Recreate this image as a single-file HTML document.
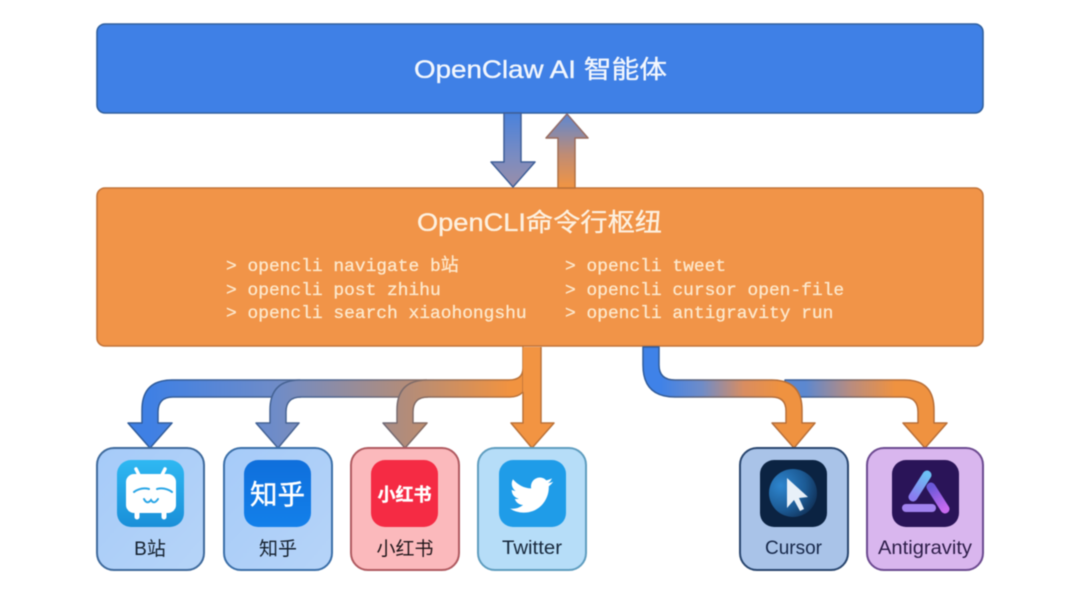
<!DOCTYPE html>
<html><head><meta charset="utf-8"><title>OpenCLI</title>
<style>html,body{margin:0;padding:0;background:#fff;width:1080px;height:602px;overflow:hidden}
svg{display:block;filter:blur(.45px)}
.s{font-family:"Liberation Sans","Noto Sans CJK SC",sans-serif}
.m{font-family:"Liberation Mono","Noto Sans CJK SC",monospace;font-size:17.900px;fill:#fde8cc;stroke:#fde8cc;stroke-width:.3px}
.l{font-family:"Liberation Sans","Noto Sans CJK SC",sans-serif;font-size:19px;text-anchor:middle}
.h{stroke-width:.35px}
</style></head><body>
<svg width="1080" height="602" viewBox="0 0 1080 602" xmlns="http://www.w3.org/2000/svg">
<defs>
<linearGradient id="tf" gradientUnits="userSpaceOnUse" x1="150" y1="0" x2="510" y2="0"><stop offset="0" stop-color="#3f80e4"/><stop offset=".35" stop-color="#6f8cc8"/><stop offset=".7" stop-color="#b08c7c"/><stop offset="1" stop-color="#f19340"/></linearGradient>
<linearGradient id="ts" gradientUnits="userSpaceOnUse" x1="150" y1="0" x2="510" y2="0"><stop offset="0" stop-color="#2f5c9c"/><stop offset=".5" stop-color="#4f6690"/><stop offset="1" stop-color="#bb7238"/></linearGradient>
<linearGradient id="r1f" gradientUnits="userSpaceOnUse" x1="660" y1="0" x2="780" y2="0"><stop offset="0" stop-color="#3f82e8"/><stop offset=".35" stop-color="#6f8cc8"/><stop offset=".7" stop-color="#d98d60"/><stop offset="1" stop-color="#ef9240"/></linearGradient>
<linearGradient id="r1s" gradientUnits="userSpaceOnUse" x1="660" y1="0" x2="780" y2="0"><stop offset="0" stop-color="#2f5c9c"/><stop offset="1" stop-color="#b86f38"/></linearGradient>
<linearGradient id="r2f" gradientUnits="userSpaceOnUse" x1="805" y1="0" x2="895" y2="0"><stop offset="0" stop-color="#5c88d0"/><stop offset=".5" stop-color="#b88c80"/><stop offset="1" stop-color="#ef9240"/></linearGradient>
<linearGradient id="r2s" gradientUnits="userSpaceOnUse" x1="805" y1="0" x2="895" y2="0"><stop offset="0" stop-color="#3b5f98"/><stop offset="1" stop-color="#b86f38"/></linearGradient>
<linearGradient id="dn" x1="0" y1="0" x2="0" y2="1"><stop offset="0" stop-color="#4a82dc"/><stop offset=".6" stop-color="#7c8cc0"/><stop offset="1" stop-color="#9a8ea8"/></linearGradient>
<linearGradient id="up" x1="0" y1="1" x2="0" y2="0"><stop offset="0" stop-color="#f29542"/><stop offset=".45" stop-color="#c08c74"/><stop offset="1" stop-color="#5c88d4"/></linearGradient>
<linearGradient id="upS" x1="0" y1="1" x2="0" y2="0"><stop offset="0" stop-color="#bb7238"/><stop offset="1" stop-color="#8a6a70"/></linearGradient>
<linearGradient id="bi" x1="0" y1="0" x2="0" y2="1"><stop offset="0" stop-color="#2fb8f2"/><stop offset="1" stop-color="#1a8fd8"/></linearGradient>
<linearGradient id="zh" x1="0" y1="0" x2="0" y2="1"><stop offset="0" stop-color="#0f6fdc"/><stop offset="1" stop-color="#1380ea"/></linearGradient>
<linearGradient id="nA" x1="0" y1="0" x2="1" y2="1"><stop offset="0" stop-color="#a6cbf9"/><stop offset="1" stop-color="#b6d4f8"/></linearGradient>
<radialGradient id="cu" cx=".25" cy=".35" r=".85"><stop offset="0" stop-color="#2e86cf"/><stop offset=".6" stop-color="#1c5a94"/><stop offset="1" stop-color="#0f2c50"/></radialGradient>
<linearGradient id="a1" gradientUnits="userSpaceOnUse" x1="927" y1="475" x2="913" y2="497"><stop offset="0" stop-color="#6cc0f4"/><stop offset="1" stop-color="#8a7cf0"/></linearGradient>
<linearGradient id="a2" gradientUnits="userSpaceOnUse" x1="931" y1="487" x2="945" y2="509"><stop offset="0" stop-color="#6a58d8"/><stop offset="1" stop-color="#c86af0"/></linearGradient>
</defs>

<rect x="97" y="24" width="886" height="89" rx="8" fill="#3f80e6" stroke="#30609f" stroke-width="1.6"/>
<text class="s h" x="414" y="78" font-size="25" fill="#f2f6fd" stroke="#f2f6fd" textLength="253" lengthAdjust="spacingAndGlyphs">OpenClaw AI 智能体</text>

<rect x="97" y="188" width="886" height="158" rx="8" fill="#f19448" stroke="#c2743a" stroke-width="1.6"/>
<text class="s h" x="417" y="231" font-size="25" fill="#fdf0df" stroke="#fdf0df" textLength="245" lengthAdjust="spacingAndGlyphs">OpenCLI命令行枢纽</text>
<text class="m" x="226" y="271">&gt; opencli navigate b站</text>
<text class="m" x="226" y="295">&gt; opencli post zhihu</text>
<text class="m" x="226" y="318">&gt; opencli search xiaohongshu</text>
<text class="m" x="565" y="271">&gt; opencli tweet</text>
<text class="m" x="565" y="295">&gt; opencli cursor open-file</text>
<text class="m" x="565" y="318">&gt; opencli antigravity run</text>

<path d="M504 113V162H491L513 187L535 162H521V113Z" fill="url(#dn)" stroke="#3f5f98" stroke-width="1.5" stroke-linejoin="round"/>
<path d="M558 188V138H546L567 114L588 138H575V188Z" fill="url(#up)" stroke="url(#upS)" stroke-width="1.5" stroke-linejoin="round"/>

<g stroke-width="1.5" stroke-linejoin="round">
<path d="M523 347V368Q523 380 509 380H172Q142 380 142 410V423H128L150 448L172 423H158V412Q158 397 173 397H510Q518 397 523 392V347Z" fill="url(#tf)" stroke="url(#ts)"/>
<path d="M300 380Q270 380 270 410V423H256L278 448L299 423H286V412Q286 397 301 397" fill="url(#tf)" stroke="url(#ts)"/>
<path d="M427 380Q397 380 397 410V423H383L405 448L427 423H413V412Q413 397 428 397" fill="url(#tf)" stroke="url(#ts)"/>
<path d="M541 347V423H554L532 448L511 423H523V392L523 368V347Z" fill="#f29442" stroke="none"/>
<path d="M541 347V423H554L532 448L511 423H523V392" fill="none" stroke="#bb7238"/>

<path d="M785 380H905Q934 380 934 410V423H947L925 448L903 423H918V412Q918 397 903 397H785Z" fill="url(#r2f)" stroke="url(#r2s)"/>
<path d="M643 347V365Q643 397 675 397H772Q786 397 786 411V423H772L794 448L815 423H802V410Q802 380 772 380H675Q659 380 659 365V347Z" fill="url(#r1f)" stroke="url(#r1s)"/>
</g>

<rect x="97" y="448" width="107" height="122" rx="17" fill="url(#nA)" stroke="#3f6a9c" stroke-width="2"/>
<rect x="224" y="448" width="108" height="122" rx="17" fill="url(#nA)" stroke="#3b6fa8" stroke-width="2"/>
<rect x="351" y="448" width="108" height="122" rx="17" fill="#fbb9bc" stroke="#b05a60" stroke-width="2"/>
<rect x="478" y="448" width="108" height="122" rx="17" fill="#b6ddf8" stroke="#5f9dbf" stroke-width="2"/>
<rect x="740" y="448" width="108" height="122" rx="17" fill="#a9c3e8" stroke="#29466f" stroke-width="2"/>
<rect x="867" y="448" width="116" height="122" rx="17" fill="#d9b6ee" stroke="#6c4a90" stroke-width="2"/>

<rect x="117" y="460" width="67" height="67" rx="14" fill="url(#bi)"/>
<path d="M139 475L136 469M162 475L165 469" stroke="#fff" stroke-width="3.500" stroke-linecap="round"/>
<rect x="126" y="474" width="50" height="39" rx="8" fill="#fff"/>
<path d="M137 510V517M164 510V517" stroke="#fff" stroke-width="5" stroke-linecap="round"/>
<path d="M134 492Q141 487 149 489M157 489Q165 487 172 492M144 499Q147 505 151 500Q154 505 158 499" fill="none" stroke="#2ba6e6" stroke-width="2" stroke-linecap="round"/>

<rect x="244" y="460" width="67" height="67" rx="14" fill="url(#zh)"/>
<text class="s" x="277.500" y="504" font-size="27.500" fill="#fff" stroke="#fff" stroke-width=".4" text-anchor="middle">知乎</text>

<rect x="371" y="460" width="67" height="67" rx="14" fill="#f52b44"/>
<text class="s" x="404.500" y="501" font-size="18" font-weight="700" fill="#fff" stroke="#fff" stroke-width=".3" text-anchor="middle">小红书</text>

<rect x="499" y="460" width="67" height="67" rx="14" fill="#1f9ce8"/>
<path transform="translate(510 473.500) scale(1.8)" fill="#fff" d="M23.953 4.57a10 10 0 01-2.825.775 4.958 4.958 0 002.163-2.723c-.951.555-2.005.959-3.127 1.184a4.92 4.92 0 00-8.384 4.482C7.69 8.095 4.067 6.13 1.64 3.162a4.822 4.822 0 00-.666 2.475c0 1.71.87 3.213 2.188 4.096a4.904 4.904 0 01-2.228-.616v.06a4.923 4.923 0 003.946 4.827 4.996 4.996 0 01-2.212.085 4.936 4.936 0 004.604 3.417 9.867 9.867 0 01-6.102 2.105c-.39 0-.779-.023-1.17-.067a13.995 13.995 0 007.557 2.209c9.053 0 13.998-7.496 13.998-13.985 0-.21 0-.42-.015-.63A9.935 9.935 0 0024 4.59z"/>

<rect x="760" y="460" width="67" height="67" rx="14" fill="#0b2342"/>
<circle cx="793" cy="493" r="24" fill="url(#cu)"/>
<path d="M787 478V508L794 500L800 511L804 509L799 498L808 497Z" fill="#e8f0f8"/>

<rect x="892" y="460" width="67" height="67" rx="14" fill="#2a1458"/>
<path d="M913 497L927 475" stroke="url(#a1)" stroke-width="9" stroke-linecap="round"/>
<path d="M931 487L945 509" stroke="url(#a2)" stroke-width="9" stroke-linecap="round"/>
<path d="M906 508H932" stroke="#a283f0" stroke-width="8" stroke-linecap="round"/>

<text class="l" x="150" y="555" fill="#14202e">B站</text>
<text class="l" x="278" y="555" fill="#14202e">知乎</text>
<text class="l" x="405" y="555" fill="#20161a">小红书</text>
<text class="s" x="502" y="554" font-size="19" fill="#17283c" textLength="60" lengthAdjust="spacingAndGlyphs">Twitter</text>
<text class="s" x="765" y="554" font-size="19" fill="#17284a" textLength="57" lengthAdjust="spacingAndGlyphs">Cursor</text>
<text class="s" x="878" y="554" font-size="19" fill="#2c1c48" textLength="94" lengthAdjust="spacingAndGlyphs">Antigravity</text>
</svg>
</body></html>
